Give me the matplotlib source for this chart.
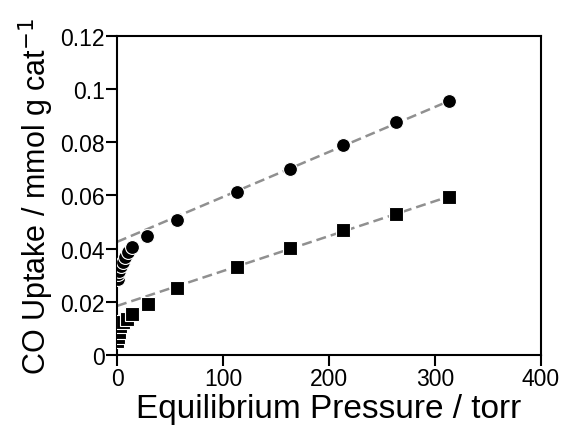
import matplotlib
matplotlib.use("Agg")
import matplotlib.pyplot as plt

plt.rcParams['font.family'] = ['Liberation Sans', 'DejaVu Sans']

# Series 1 (circles)
circ_p = [0.5, 1.2, 2.0, 3.6, 5.5, 7.5, 10, 14, 28, 57, 113, 163, 213, 263, 313]
circ_u = [0.0286, 0.0305, 0.0316, 0.0335, 0.035, 0.0369, 0.0387, 0.0406, 0.0446, 0.0508, 0.0612, 0.0700, 0.0790, 0.0875, 0.0955]
# Series 2 (squares)
sq_p = [0.3, 0.7, 1.5, 3, 6, 9, 14, 29, 57, 113, 163, 213, 263, 313]
sq_u = [0.0053, 0.0068, 0.0087, 0.011, 0.0124, 0.0135, 0.0155, 0.019, 0.0252, 0.0330, 0.0401, 0.0468, 0.0530, 0.0595]
# Linear fit lines (endpoints)
fit_p = [0, 315]
fit_circ = [0.0425, 0.0958]
fit_sq = [0.0184, 0.0598]

xticks = [0, 100, 200, 300, 400]
yticks = [0, 0.02, 0.04, 0.06, 0.08, 0.1, 0.12]
ytick_labels = ['0', '0.02', '0.04', '0.06', '0.08', '0.1', '0.12']

fig = plt.figure(figsize=(5.68, 4.35), dpi=100)
ax = fig.add_axes([0.206, 0.182, 0.746, 0.733])

ax.plot(fit_p, fit_circ, ls=(0, (4, 2)), color='#909090', lw=1.8, zorder=1)
ax.plot(fit_p, fit_sq, ls=(0, (4, 2)), color='#909090', lw=1.8, zorder=1)
ax.plot(circ_p, circ_u, 'o', ms=10, mfc='black', mec='white', mew=0.8, zorder=3)
ax.plot(sq_p, sq_u, 's', ms=10, mfc='black', mec='white', mew=0.8, zorder=3)

ax.set_xlim(0, 400)
ax.set_ylim(0, 0.12)
ax.set_xticks(xticks)
ax.set_yticks(yticks)
ax.set_yticklabels(ytick_labels)
ax.tick_params(direction='out', length=8, width=1.5, labelsize=16.5, pad=1)
for s in ax.spines.values():
    s.set_linewidth(1.5)

ax.set_xlabel('Equilibrium Pressure / torr', fontsize=24, labelpad=2)
ax.set_ylabel('CO Uptake / mmol g cat$^{-1}$', fontsize=22, labelpad=3)

fig.savefig('out.png', dpi=100)
